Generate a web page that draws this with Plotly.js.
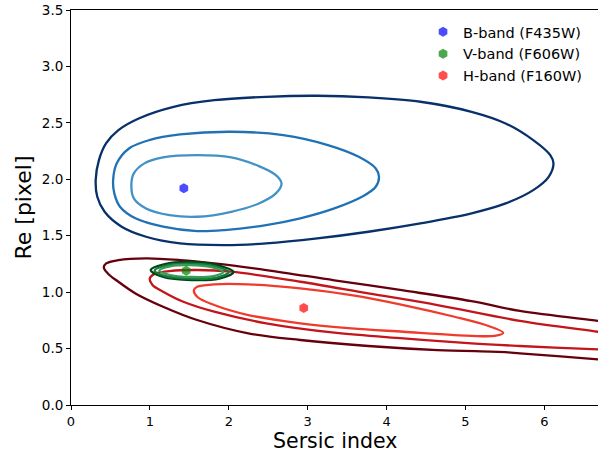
<!DOCTYPE html>
<html>
<head>
<meta charset="utf-8">
<script src="https://cdn.plot.ly/plotly-3.0.1.min.js"></script>
<style>html,body{margin:0;padding:0;background:#fff;}#chart{width:598px;height:454px;}</style>
</head>
<body>
<div id="chart"></div>
<script>
// ---- Data ----
// Best-fit points (Sersic index, Re)
const bandNames = ["B-band (F435W)", "V-band (F606W)", "H-band (F160W)"];
const bestN = [1.43, 1.46, 2.95];
const bestRe = [1.92, 1.19, 0.86];

// B-band contours (outer, middle, inner)
const B3x = [3.122, 3.770, 4.429, 5.077, 5.509, 5.859, 6.075, 6.116, 6.055, 5.859, 5.509, 5.077, 4.429, 3.770, 3.122, 2.474, 1.949, 1.383, 0.951, 0.642, 0.426, 0.333, 0.313, 0.354, 0.446, 0.601, 0.858, 1.301, 1.815, 2.474, 3.122];
const B3y = [2.740, 2.725, 2.687, 2.598, 2.495, 2.347, 2.214, 2.141, 2.022, 1.904, 1.786, 1.698, 1.609, 1.535, 1.476, 1.432, 1.417, 1.432, 1.491, 1.580, 1.712, 1.845, 1.993, 2.170, 2.320, 2.436, 2.539, 2.642, 2.701, 2.731, 2.740];
const B2x = [2.031, 2.690, 3.256, 3.647, 3.863, 3.904, 3.863, 3.688, 3.338, 2.906, 2.474, 1.949, 1.599, 1.167, 0.817, 0.621, 0.549, 0.534, 0.580, 0.735, 0.992, 1.383, 2.031];
const B2y = [2.421, 2.391, 2.303, 2.199, 2.096, 2.022, 1.934, 1.845, 1.742, 1.654, 1.594, 1.550, 1.541, 1.580, 1.654, 1.757, 1.875, 1.993, 2.141, 2.273, 2.347, 2.397, 2.421];
const B1x = [1.599, 2.031, 2.381, 2.597, 2.669, 2.597, 2.381, 2.031, 1.599, 1.249, 0.951, 0.796, 0.765, 0.796, 0.930, 1.167, 1.599];
const B1y = [2.214, 2.194, 2.117, 2.037, 1.963, 1.875, 1.786, 1.712, 1.668, 1.683, 1.742, 1.831, 1.949, 2.052, 2.141, 2.194, 2.214];

// V-band contours
const G3x = [1.51, 1.85, 2.06, 1.88, 1.53, 1.17, 1.01, 1.19, 1.51];
const G3y = [1.267, 1.240, 1.178, 1.120, 1.107, 1.134, 1.196, 1.249, 1.267];
const G2x = [1.51, 1.82, 2.00, 1.85, 1.53, 1.20, 1.06, 1.23, 1.51];
const G2y = [1.253, 1.231, 1.178, 1.129, 1.120, 1.142, 1.191, 1.240, 1.253];
const G1x = [1.51, 1.78, 1.93, 1.79, 1.53, 1.24, 1.12, 1.27, 1.51];
const G1y = [1.240, 1.222, 1.178, 1.140, 1.134, 1.154, 1.191, 1.231, 1.240];

// H-band contours (outer two run off the right edge)
const R3x = [7.0, 6.68, 5.69, 5.077, 4.213, 3.338, 2.474, 1.815, 1.383, 0.951, 0.601, 0.446, 0.416, 0.467, 0.601, 0.817, 1.167, 1.599, 2.247, 2.906, 3.770, 4.645, 5.509, 5.69, 6.68, 7.0];
const R3y = [0.718, 0.746, 0.833, 0.920, 1.015, 1.105, 1.196, 1.255, 1.284, 1.299, 1.284, 1.255, 1.219, 1.166, 1.092, 0.989, 0.871, 0.753, 0.635, 0.576, 0.523, 0.487, 0.468, 0.458, 0.405, 0.388];
const R2x = [7.0, 6.68, 5.69, 4.645, 3.770, 2.906, 2.031, 1.599, 1.249, 1.074, 0.999, 1.033, 1.167, 1.424, 1.815, 2.474, 3.338, 4.213, 5.077, 5.69, 6.68, 7.0];
const R2y = [0.618, 0.649, 0.746, 0.886, 0.989, 1.092, 1.181, 1.196, 1.187, 1.166, 1.122, 1.063, 1.004, 0.915, 0.827, 0.724, 0.641, 0.590, 0.546, 0.523, 0.493, 0.483];
const R1x = [1.815, 2.247, 2.906, 3.554, 4.213, 4.861, 5.293, 5.478, 5.386, 4.861, 4.213, 3.554, 2.906, 2.247, 1.815, 1.599, 1.558, 1.599, 1.815];
const R1y = [1.069, 1.069, 1.034, 0.974, 0.886, 0.782, 0.700, 0.641, 0.614, 0.620, 0.649, 0.679, 0.724, 0.797, 0.886, 0.959, 1.019, 1.048, 1.069];

const xTicks = [0, 1, 2, 3, 4, 5, 6];
const yTicks = [0.0, 0.5, 1.0, 1.5, 2.0, 2.5, 3.0, 3.5];
const xTitle = "Sersic index";
const yTitle = "Re [pixel]";

// ---- Styles ----
const contours = [
  [B3x, B3y, "#08306b"], [B2x, B2y, "#2171b5"], [B1x, B1y, "#4292c6"],
  [R3x, R3y, "#67000d"], [R2x, R2y, "#c2161c"], [R1x, R1y, "#ef3b2c"],
  [G3x, G3y, "#00441b"], [G2x, G2y, "#137e3a"], [G1x, G1y, "#3a9a58"]
];
const pointColors = ["rgba(0,0,255,0.7)", "rgba(0,128,0,0.7)", "rgba(255,0,0,0.7)"];

const traces = contours.map(c => ({
  x: c[0], y: c[1], type: "scatter", mode: "lines",
  line: {color: c[2], width: 2.3, shape: "spline", smoothing: 1},
  showlegend: false, hoverinfo: "skip"
}));
bandNames.forEach((name, i) => {
  traces.push({
    x: [bestN[i]], y: [bestRe[i]], type: "scatter", mode: "markers", name: name,
    marker: {symbol: "hexagon", size: 10, color: pointColors[i], line: {width: 0}}
  });
});

const font = "DejaVu Sans, sans-serif";
const layout = {
  width: 598, height: 454,
  margin: {l: 71, r: 0, t: 10, b: 49},
  paper_bgcolor: "#fff", plot_bgcolor: "#fff",
  font: {family: font, color: "#000", size: 14},
  showlegend: true,
  legend: {x: 0.668, xanchor: "left", y: 0.985, yanchor: "top", bgcolor: "rgba(0,0,0,0)",
           font: {family: font, size: 14.5, color: "#000"}, itemwidth: 30, tracegroupgap: 0},
  xaxis: {
    range: [0, 6.68], tickvals: xTicks, ticktext: xTicks.map(String),
    ticks: "outside", ticklen: 4, tickwidth: 1, tickcolor: "#000",
    showline: true, linecolor: "#000", linewidth: 1, mirror: true,
    showgrid: false, zeroline: false,
    tickfont: {family: font, size: 13, color: "#000"}
  },
  yaxis: {
    range: [0, 3.5], tickvals: yTicks, ticktext: yTicks.map(v => v.toFixed(1)),
    ticks: "outside", ticklen: 4, tickwidth: 1, tickcolor: "#000",
    showline: true, linecolor: "#000", linewidth: 1,
    showgrid: false, zeroline: false,
    tickfont: {family: font, size: 13.5, color: "#000"},
    title: {text: yTitle, font: {family: font, size: 22, color: "#000"}, standoff: 4}
  },
  annotations: [{
    text: xTitle, xref: "paper", yref: "paper", x: 0.5, y: 0, xanchor: "center", yanchor: "bottom",
    yshift: -48.5, showarrow: false, font: {family: font, size: 20.5, color: "#000"}, borderpad: 0
  }]
};
Plotly.newPlot("chart", traces, layout, {displayModeBar: false, staticPlot: true});
</script>
</body>
</html>
